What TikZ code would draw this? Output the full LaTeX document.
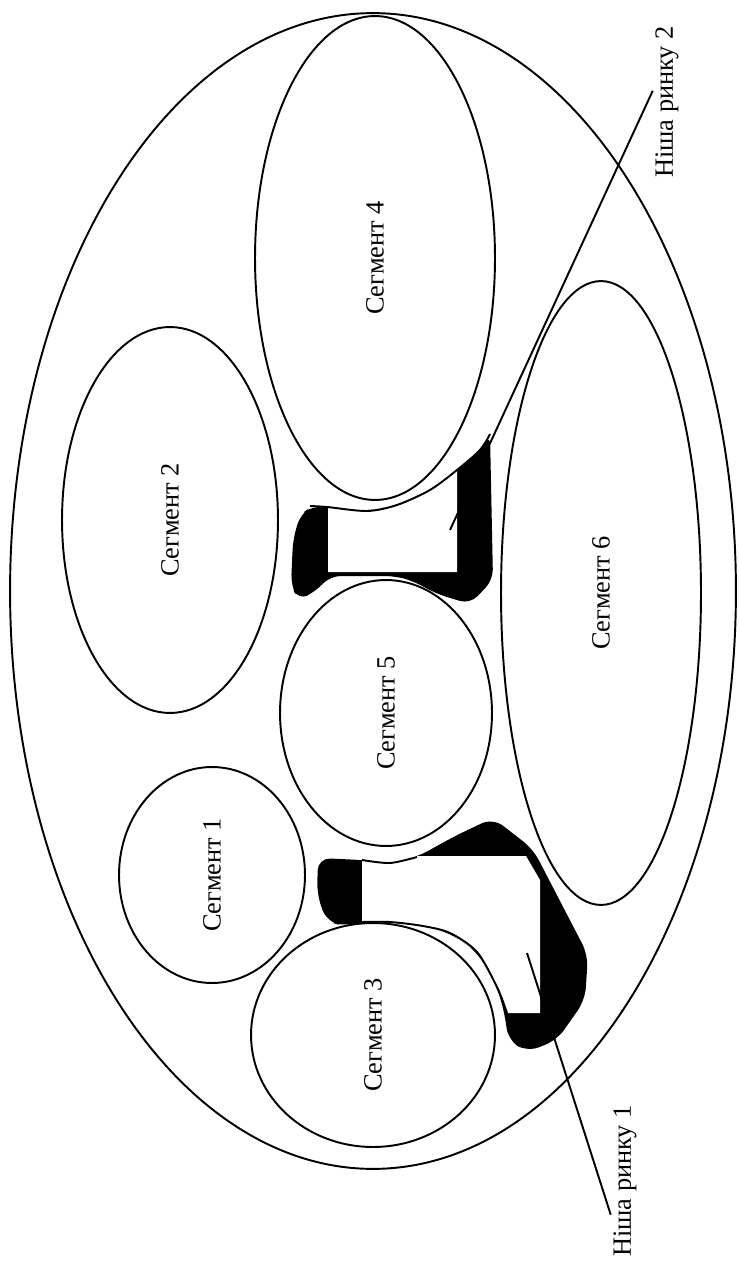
\documentclass[tikz,border=0pt]{standalone}
\usepackage{fontspec}
\setmainfont{Liberation Serif}
\usepackage{tikz}
\usetikzlibrary{shapes.geometric}

\begin{document}
\begin{tikzpicture}[x=0.02cm, y=-0.02cm, line width=1.1pt,
  font=\fontsize{15}{18}\selectfont,
  seg/.style={draw, ellipse, rotate=90, inner sep=0pt},
  lbl/.style={rotate=90, inner sep=1pt}]
  \useasboundingbox (0,0) rectangle (739,1263);
  \draw (373,591) ellipse [x radius=7.26cm, y radius=11.56cm];

  \node[seg, minimum width=9.68cm, minimum height=4.8cm] (s4) at (375,258) {Сегмент 4};
  \node[seg, minimum width=7.72cm, minimum height=4.32cm] (s2) at (170,520) {Сегмент 2};
  \node[seg, minimum width=12.48cm, minimum height=4cm] (s6) at (601,593) {Сегмент 6};
  \node[seg, minimum width=5.32cm, minimum height=4.24cm] (s5) at (386,713) {Сегмент 5};
  \node[seg, minimum width=4.32cm, minimum height=3.72cm] (s1) at (212,875) {Сегмент 1};
  \node[seg, minimum width=4.48cm, minimum height=4.88cm] (s3) at (373,1035) {Сегмент 3};

  \fill[rounded corners=6] (490,434) -- (493,580) -- (470,604) -- (437,594) -- (413,581)
    -- (395,576) -- (330,576) -- (315,592) -- (298,600) -- (291,585) -- (293,540)
    -- (300,515) -- (312,506) -- (327,507) -- (367,511) -- (397,505) -- (430,490)
    -- (457,470) -- (480,450) -- cycle;
  \fill[white] (328,507) -- (367,511) -- (397,505) -- (430,490) -- (457,470)
    -- (457,572) -- (328,572) -- cycle;
  \draw plot[smooth] coordinates {(310,506) (327,507) (367,511) (397,505) (430,490) (457,470) (480,450) (490,434)};

  \fill[rounded corners=7] (318,858) -- (362,860) -- (390,863) -- (417,857) -- (455,836)
    -- (493,818) -- (533,849) -- (588,955) -- (585,1000) -- (557,1040) -- (527,1052)
    -- (508,1040) -- (505,1015) -- (497,987) -- (477,952) -- (450,933) -- (423,926)
    -- (390,922) -- (362,922) -- (345,926) -- (327,922) -- (317,895) -- cycle;
  \fill[white] (362,859) -- (417,856) -- (526,856) -- (540,880) -- (540,1013)
    -- (507,1013) -- (497,987) -- (477,952) -- (450,933) -- (423,926) -- (390,922)
    -- (362,922) -- cycle;
  \draw plot[smooth] coordinates {(362,860) (390,863) (417,857)};
  \draw plot[smooth] coordinates {(362,922) (390,922) (423,926) (450,933) (477,952) (497,987) (507,1013)};

  \coordinate (n2) at (450,530);
  \coordinate (n1) at (527,953);
  \node[lbl] (lab2) at (667,102) {Ніша ринку 2};
  \node[lbl] (lab1) at (625,1181) {Ніша ринку 1};
  \draw (lab2.52) -- (n2);
  \draw (lab1.157) -- (n1);
\end{tikzpicture}
\end{document}
